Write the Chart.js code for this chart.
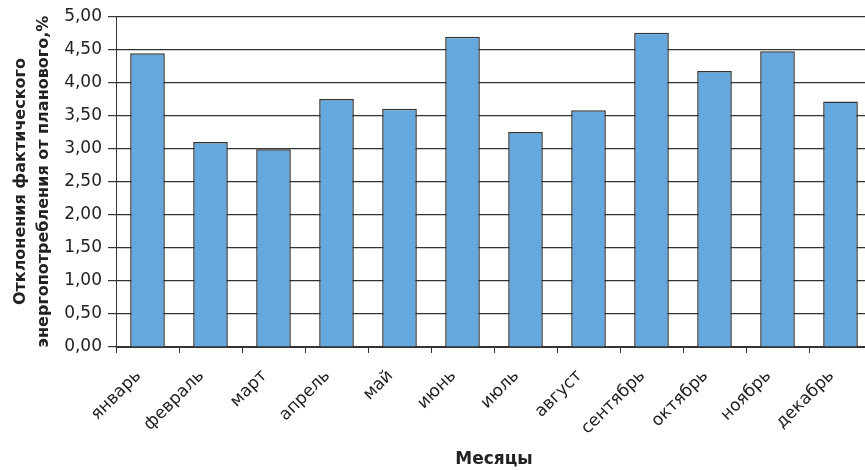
<!DOCTYPE html>
<html>
<head>
<meta charset="utf-8">
<script src="https://cdn.jsdelivr.net/npm/chart.js@4"></script>
<style>
    html, body { margin: 0; padding: 0; background: #fff; overflow: hidden; }
    #wrap { width: 874px; height: 470px; position: relative; }
</style>
</head>
<body>
<div id="wrap"><canvas id="chart"></canvas></div>
<script>
// === ДАННЫЕ ===
const months = ['январь', 'февраль', 'март', 'апрель', 'май', 'июнь',
                'июль', 'август', 'сентябрь', 'октябрь', 'ноябрь', 'декабрь'];
const deviations = [4.44, 3.10, 2.99, 3.75, 3.60, 4.69, 3.25, 3.58, 4.75, 4.17, 4.47, 3.71];
const yTitle = ['Отклонения фактического', 'энергопотребления от планового,%'];
const xTitle = 'Месяцы';

const dark = '#333333';
const font = 'DejaVu Sans';

new Chart(document.getElementById('chart'), {
    type: 'bar',
    data: {
        labels: months,
        datasets: [{
            data: deviations,
            backgroundColor: '#65a8de',
            borderColor: dark,
            borderWidth: 1.5,
            categoryPercentage: 1,
            barPercentage: 0.55
        }]
    },
    options: {
        responsive: true,
        maintainAspectRatio: false,
        animation: false,
        layout: { padding: { top: 15, right: 2, left: 0, bottom: 0 } },
        plugins: { legend: { display: false }, tooltip: { enabled: false } },
        scales: {
            x: {
                afterFit: s => { s.height = 123; },
                grid: { offset: true, drawOnChartArea: false, drawTicks: true, tickLength: 6, color: dark },
                border: { display: true, color: dark, width: 1 },
                ticks: { color: '#222', minRotation: 45, maxRotation: 45, padding: 13, labelOffset: -9,
                         font: { family: font, size: 17 } },
                title: { display: true, text: xTitle, color: '#222', padding: { top: 4, bottom: 0 },
                         font: { family: font, size: 17, weight: 'bold' } }
            },
            y: {
                min: 0, max: 5,
                afterFit: s => { s.width = 116; },
                grid: { color: dark, lineWidth: 1.2, drawTicks: true, tickLength: 8 },
                border: { display: true, color: dark, width: 1 },
                ticks: { stepSize: 0.5, color: '#222', padding: 6,
                         font: { family: font, size: 17 },
                         callback: v => v.toFixed(2).replace('.', ',') },
                title: { display: true, text: yTitle, color: '#222', padding: { top: 10, bottom: 0 },
                         font: { family: font, size: 16, weight: 'bold', lineHeight: 1.4 } }
            }
        }
    }
});
</script>
</body>
</html>
